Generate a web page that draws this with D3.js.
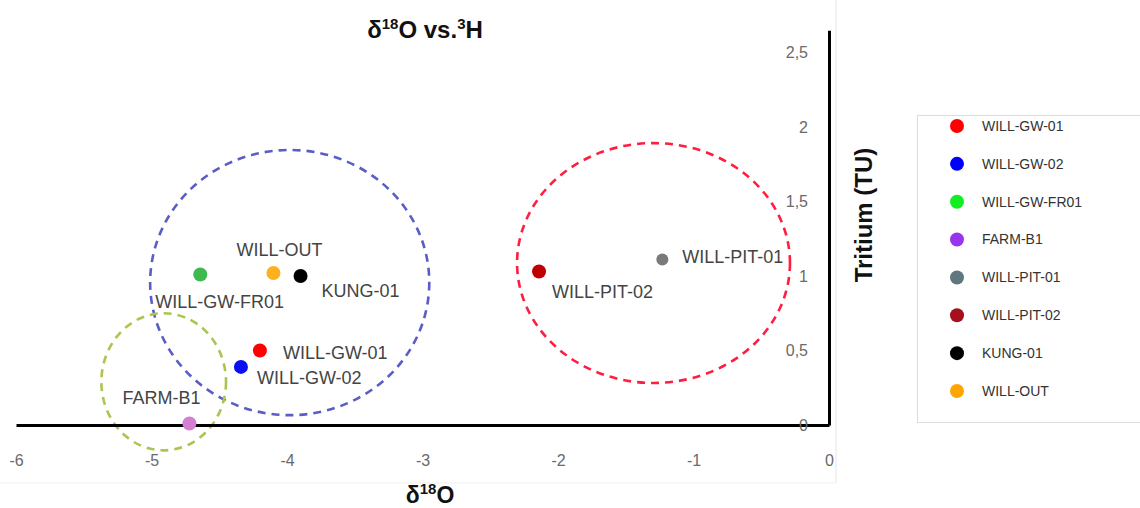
<!DOCTYPE html>
<html>
<head>
<meta charset="utf-8">
<script src="https://cdn.jsdelivr.net/npm/d3@7"></script>
<style>
  html, body { margin: 0; padding: 0; background: #fff; }
  svg { display: block; }
</style>
</head>
<body>
<svg id="chart" width="1140" height="508"></svg>
<script>
// Samples: δ18O (‰) and tritium (TU)
const samples = ["WILL-GW-01", "WILL-GW-02", "WILL-GW-FR01", "FARM-B1", "WILL-PIT-01", "WILL-PIT-02", "KUNG-01", "WILL-OUT"];
const d18O    = [-4.20, -4.34, -4.64, -4.72, -1.23, -2.14, -3.90, -4.10];
const tritium = [0.50, 0.39, 1.01, 0.01, 1.11, 1.03, 1.00, 1.02];
const pointColors  = ["#ff0000", "#0a10f0", "#3dba4e", "#d47ed4", "#7a7a7a", "#c00000", "#000000", "#ffb020"];
const legendColors = ["#ff0000", "#0000ff", "#11ee22", "#9933ee", "#5f777f", "#a5101c", "#000000", "#ffa500"];

// Dashed grouping ellipses (centre and radii in data units)
const groupNames = ["groundwater", "pits", "farm"];
const groupCx = [-3.98, -1.295, -4.91];
const groupCy = [0.956, 1.087, 0.29];
const groupRx = [1.03, 1.007, 0.46];
const groupRy = [0.89, 0.805, 0.46];
const groupColors = ["#5a5dc6", "#ff1e40", "#a9c552"];

const xTicks = [-6, -5, -4, -3, -2, -1, 0];
const yTicks = [0, 0.5, 1, 1.5, 2, 2.5];

const svg = d3.select("#chart");
const x = d3.scaleLinear().domain([-6, 0]).range([16, 829]);
const y = d3.scaleLinear().domain([0, 2.65]).range([425, 425 - 2.65 * 149]);

const loc = d3.formatLocale({decimal: ",", thousands: ".", grouping: [3], currency: ["", ""], minus: "-"});
const fmt = loc.format("");
const FONT = "Liberation Sans, Arial, sans-serif";

// faint frame of the plot area
svg.append("line").attr("x1", 836).attr("x2", 836).attr("y1", 0).attr("y2", 483)
  .attr("stroke", "#e6e6e6").attr("stroke-width", 1);
svg.append("line").attr("x1", 0).attr("x2", 836).attr("y1", 483).attr("y2", 483)
  .attr("stroke", "#efefef").attr("stroke-width", 1);

// grouping ellipses
svg.append("g").selectAll("ellipse").data(groupNames).join("ellipse")
  .attr("cx", (d, i) => x(groupCx[i]))
  .attr("cy", (d, i) => y(groupCy[i]))
  .attr("rx", (d, i) => x(groupCx[i] + groupRx[i]) - x(groupCx[i]))
  .attr("ry", (d, i) => y(groupCy[i]) - y(groupCy[i] + groupRy[i]))
  .attr("fill", "none")
  .attr("stroke", (d, i) => groupColors[i])
  .attr("stroke-width", 2.6)
  .attr("stroke-dasharray", "8,6");

// axes
const xAxis = d3.axisBottom(x).tickValues(xTicks).tickFormat(fmt).tickSize(0).tickSizeOuter(0).tickPadding(30);
const gx = svg.append("g").attr("transform", `translate(0,${y(0)})`).call(xAxis);
gx.select(".domain").attr("stroke", "#000").attr("stroke-width", 3);
gx.selectAll("text").attr("font-family", FONT).attr("font-size", 16).attr("fill", "#6a6a6a");

const yAxis = d3.axisLeft(y).tickValues(yTicks).tickFormat(fmt).tickSize(0).tickSizeOuter(0).tickPadding(21);
const gy = svg.append("g").attr("transform", `translate(${x(0)},0)`).call(yAxis);
gy.select(".domain").attr("stroke", "#000").attr("stroke-width", 3);
gy.selectAll("text").attr("font-family", FONT).attr("font-size", 16).attr("fill", "#6a6a6a");

// points
svg.append("g").selectAll("circle").data(samples).join("circle")
  .attr("cx", (d, i) => x(d18O[i]))
  .attr("cy", (d, i) => y(tritium[i]))
  .attr("r", (d, i) => d === "WILL-PIT-01" ? 6 : 7)
  .attr("fill", (d, i) => pointColors[i]);

// point labels, offset in pixels from each point
const labelOffset = {
  "WILL-GW-01": [23, 8], "WILL-GW-02": [16, 17], "WILL-GW-FR01": [-45, 33], "FARM-B1": [-67, -20],
  "WILL-PIT-01": [20, 3], "WILL-PIT-02": [13, 26], "KUNG-01": [21, 21], "WILL-OUT": [-37, -17]
};
svg.append("g").selectAll("text").data(samples).join("text")
  .attr("x", (d, i) => x(d18O[i]) + labelOffset[d][0])
  .attr("y", (d, i) => y(tritium[i]) + labelOffset[d][1])
  .attr("font-family", FONT)
  .attr("font-size", 18)
  .attr("fill", "#444")
  .text(d => d);

// titles
const title = svg.append("text").attr("x", 425).attr("y", 38).attr("text-anchor", "middle")
  .attr("font-family", FONT).attr("font-weight", "bold")
  .attr("font-size", 24).attr("fill", "#111");
title.append("tspan").text("δ");
title.append("tspan").attr("font-size", 15).attr("dy", -9).text("18");
title.append("tspan").attr("dy", 9).text("O vs.");
title.append("tspan").attr("font-size", 15).attr("dy", -9).text("3");
title.append("tspan").attr("dy", 9).text("H");

const xTitle = svg.append("text").attr("x", 430).attr("y", 503).attr("text-anchor", "middle")
  .attr("font-family", FONT).attr("font-weight", "bold")
  .attr("font-size", 23).attr("fill", "#111");
xTitle.append("tspan").text("δ");
xTitle.append("tspan").attr("font-size", 15).attr("dy", -9).text("18");
xTitle.append("tspan").attr("dy", 9).text("O");

svg.append("text").attr("transform", "translate(872,215) rotate(-90)").attr("text-anchor", "middle")
  .attr("font-family", FONT).attr("font-weight", "bold")
  .attr("font-size", 24).attr("fill", "#111").text("Tritium (TU)");

// legend
const legend = svg.append("g");
legend.append("rect").attr("x", 917.5).attr("y", 115.5).attr("width", 240).attr("height", 307)
  .attr("fill", "#fff").attr("stroke", "#dcdcdc").attr("stroke-width", 1);
const ly = d3.scalePoint().domain(samples).range([126, 391]);
const items = legend.selectAll("g.item").data(samples).join("g").attr("class", "item")
  .attr("transform", d => `translate(0,${ly(d)})`);
items.append("circle").attr("cx", 957).attr("cy", 0).attr("r", 7).attr("fill", (d, i) => legendColors[i]);
items.append("text").attr("x", 982).attr("y", 0).attr("dy", "0.35em")
  .attr("font-family", FONT).attr("font-size", 14)
  .attr("fill", "#333").text(d => d);
</script>
</body>
</html>
